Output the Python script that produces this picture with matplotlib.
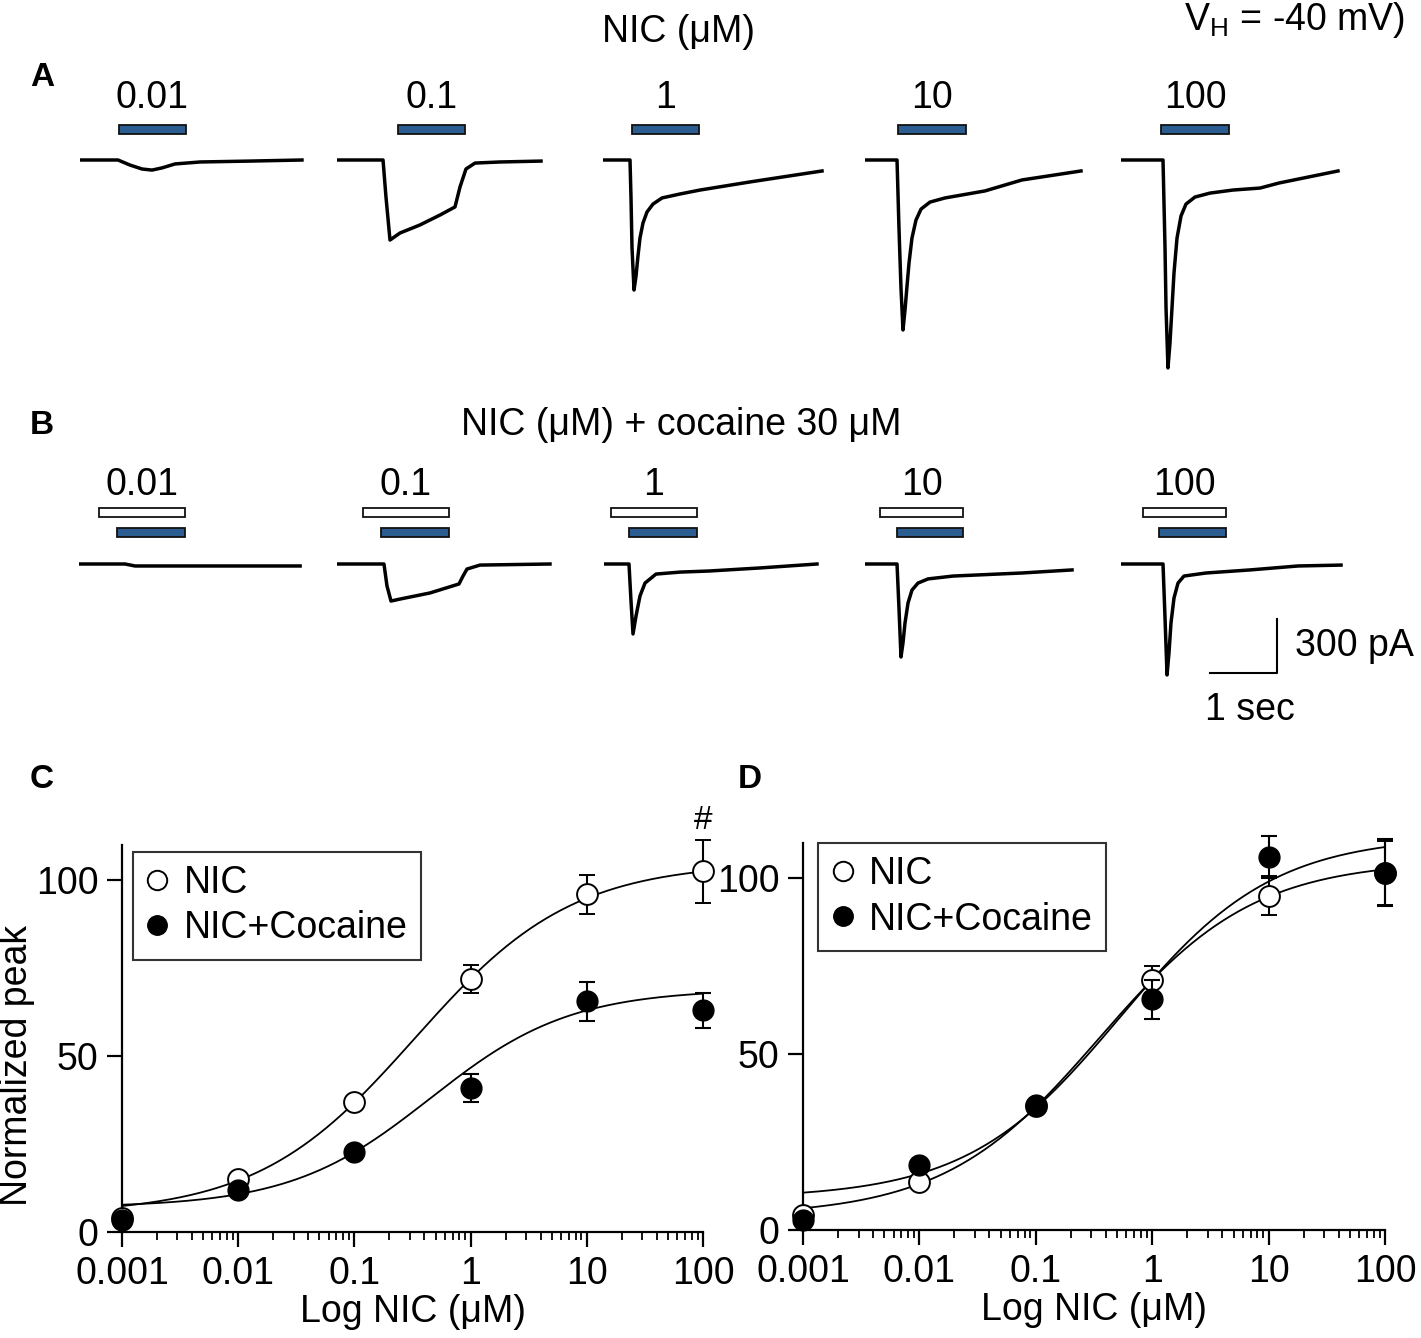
import numpy as np
import matplotlib.pyplot as plt
from matplotlib.patches import Rectangle
from matplotlib.ticker import FixedLocator, LogLocator, NullFormatter

plt.rcParams['font.family'] = ['Liberation Sans', 'DejaVu Sans']

# ---- traces (time in s from trace start, current in pA) ----
conc_labels = ['0.01', '0.1', '1', '10', '100']

a_t = [
    [0, .567, .746, .925, 1.075, 1.224, 1.418, 1.791, 2.537, 3.313],
    [0, .687, .731, .791, .940, 1.239, 1.537, 1.761, 1.836, 1.925, 2.06, 2.433, 3.045],
    [0, .403, .418, .433, .463, .493, .522, .552, .597, .657, .746, .881, 1.149, 1.448, 2.194, 3.269],
    [0, .478, .507, .537, .567, .597, .627, .657, .701, .761, .836, .970, 1.194, 1.791, 2.343, 3.224],
    [0, .627, .657, .672, .701, .731, .761, .791, .836, .896, .970, 1.104, 1.328, 1.672, 2.075, 2.358, 3.239],
]
a_i = [
    [0, 0, -28, -50, -56, -44, -22, -11, -6, 0],
    [0, 0, -206, -445, -406, -361, -306, -261, -150, -50, -17, -11, -6],
    [0, 0, -211, -489, -723, -645, -534, -434, -350, -289, -245, -211, -189, -167, -122, -61],
    [0, 0, -378, -712, -945, -834, -701, -573, -434, -334, -273, -234, -211, -172, -111, -61],
    [0, 0, -489, -823, -1156, -1017, -823, -628, -434, -311, -245, -206, -184, -167, -156, -128, -61],
]
a_nic_on = [.582, .91, .433, .493, .597]
a_nic_off = [1.582, 1.91, 1.433, 1.507, 1.612]

b_t = [
    [0, .687, .836, 3.3],
    [0, .701, .746, .806, .940, 1.388, 1.821, 1.881, 1.940, 2.134, 3.179],
    [0, .373, .403, .433, .478, .537, .612, .776, 1.134, 1.567, 2.328, 3.179],
    [0, .478, .507, .537, .567, .597, .642, .701, .791, .940, 1.313, 2.343, 3.09],
    [0, .627, .657, .687, .716, .746, .791, .851, .940, 1.269, 1.925, 2.642, 3.284],
]
b_i = [
    [0, 0, -11, -11],
    [0, 0, -122, -206, -195, -161, -111, -67, -28, -6, 0],
    [0, 0, -206, -389, -289, -178, -106, -56, -45, -39, -22, 0],
    [0, 0, -245, -517, -439, -328, -217, -145, -106, -83, -67, -50, -33],
    [0, 0, -300, -617, -495, -328, -189, -106, -67, -50, -33, -11, -6],
]
b_coc_on = [.30, .388, .104, .224, .328]
b_coc_off = [1.58, 1.672, 1.388, 1.463, 1.567]
b_nic_on = [.567, .657, .373, .478, .567]
b_nic_off = [1.58, 1.672, 1.388, 1.463, 1.567]

scale_t = 1.0      # s
scale_i = 300.0    # pA

# ---- concentration-response ----
conc = [0.001, 0.01, 0.1, 1, 10, 100]
c_nic = [4, 15, 37, 72, 96, 102.5]
c_nic_err = [0, 0, 0, 4, 5.5, 9]
c_coc = [3.5, 12, 22.6, 41, 65.6, 63]
c_coc_err = [0, 0, 0, 4, 5.5, 5]
d_nic = [4.4, 13.7, 35.2, 71, 95, 101.5]
d_nic_err = [0, 0, 0, 4, 5.5, 9]
d_coc = [2.8, 18.4, 35.5, 65.6, 106, 101.5]
d_coc_err = [0, 0, 0, 5.5, 6, 9.5]

# Hill fit parameters: bottom, top, EC50 (uM), slope
c_nic_fit = (5, 105, 0.33, 0.64)
c_coc_fit = (7, 69, 0.45, 0.72)
d_nic_fit = (4, 105, 0.35, 0.65)
d_coc_fit = (9, 112, 0.53, 0.66)


def hill(x, p):
    b, t, ec, n = p
    return b + (t - b) / (1 + (ec / x) ** n)


W, H = 1421, 1338
fig = plt.figure(figsize=(W / 100, H / 100), dpi=100)
FS = 27
BLUE = '#2b5d91'

px_per_s = 67.0
px_per_pa = 1 / 5.56


def px_axes(left, top, width, height):
    return fig.add_axes([left / W, 1 - (top + height) / H, width / W, height / H])


def trace_axes(left, base):
    up, down, wd = 110, 230, 3.45 * px_per_s
    ax = px_axes(left, base - up, wd, up + down)
    ax.set_xlim(0, 3.45)
    ax.set_ylim(-down / px_per_pa, up / px_per_pa)
    ax.axis('off')
    return ax


def bar(ax, t0, t1, yfrac, face):
    ax.add_patch(Rectangle((t0, yfrac), t1 - t0, 0.026, transform=ax.get_xaxis_transform(),
                           facecolor=face, edgecolor='#111111', lw=1.3, clip_on=False))


a_left = [80, 337, 603, 865, 1121]
b_left = [79, 337, 604, 865, 1121]

for k in range(5):
    ax = trace_axes(a_left[k], 160)
    ax.plot(a_t[k], a_i[k], color='black', lw=2.5, solid_joinstyle='round')
    bar(ax, a_nic_on[k], a_nic_off[k], 0.752, BLUE)
    ax.text((a_nic_on[k] + a_nic_off[k]) / 2, 0.86, conc_labels[k], transform=ax.get_xaxis_transform(),
            ha='center', va='center', fontsize=FS)

for k in range(5):
    ax = trace_axes(b_left[k], 564)
    ax.plot(b_t[k], b_i[k], color='black', lw=2.5, solid_joinstyle='round')
    bar(ax, b_coc_on[k], b_coc_off[k], 0.816, 'white')
    bar(ax, b_nic_on[k], b_nic_off[k], 0.755, BLUE)
    ax.text((b_coc_on[k] + b_coc_off[k]) / 2, 0.91, conc_labels[k], transform=ax.get_xaxis_transform(),
            ha='center', va='center', fontsize=FS)
    if k == 4:
        x1, y1 = 2.33, -606
        ax.plot([x1 - scale_t, x1, x1], [y1, y1, y1 + scale_i], color='black', lw=1.5, clip_on=False)
        ax.text(x1 + 0.27, y1 + scale_i / 2, '300 pA', fontsize=FS, va='center', ha='left')
        ax.text(x1 - scale_t / 2 + 0.1, y1 - 205, '1 sec', fontsize=FS, va='center', ha='center')

fig.text(678 / W, 1 - 32 / H, 'NIC (μM)', fontsize=FS, ha='center', va='center')
fig.text(1405 / W, 1 - 20 / H, r'V$_\mathregular{H}$ = -40 mV)', fontsize=FS, ha='right', va='center')
fig.text(681 / W, 1 - 425 / H, 'NIC (μM) + cocaine 30 μM', fontsize=FS, ha='center', va='center')
for lbl, x, y in [('A', 42, 78), ('B', 42, 425), ('C', 42, 780), ('D', 750, 780)]:
    fig.text(x / W, 1 - y / H, lbl, fontsize=24, fontweight='bold', ha='center', va='center')


def dose_axes(ax, nic, nic_err, coc, coc_err, fit_nic, fit_coc, leg_anchor):
    xs = np.logspace(-3, 2, 300)
    ax.plot(xs, hill(xs, fit_nic), color='black', lw=1.3, zorder=2)
    ax.plot(xs, hill(xs, fit_coc), color='black', lw=1.3, zorder=2)
    ax.errorbar(conc, nic, yerr=nic_err, fmt='o', ms=15, mfc='white', mec='black', mew=1.4,
                ecolor='black', elinewidth=1.5, capsize=6, capthick=1.5, clip_on=False, zorder=3,
                label='NIC')
    ax.errorbar(conc, coc, yerr=coc_err, fmt='o', ms=15, mfc='black', mec='black',
                ecolor='black', elinewidth=1.5, capsize=6, capthick=1.5, clip_on=False, zorder=4,
                label='NIC+Cocaine')
    ax.set_xscale('log')
    ax.set_xlim(0.001, 100)
    ax.set_ylim(0, 110)
    ax.spines['top'].set_visible(False)
    ax.spines['right'].set_visible(False)
    for s in ('left', 'bottom'):
        ax.spines[s].set_linewidth(1.6)
    ax.xaxis.set_major_locator(FixedLocator(conc))
    ax.set_xticklabels(['0.001', '0.01', '0.1', '1', '10', '100'])
    ax.xaxis.set_minor_locator(LogLocator(base=10, subs=np.arange(2, 10), numticks=20))
    ax.xaxis.set_minor_formatter(NullFormatter())
    ax.set_yticks([0, 50, 100])
    ax.tick_params(which='major', direction='out', length=11, width=1.6, labelsize=FS, pad=6)
    ax.tick_params(which='minor', direction='out', length=6, width=1.3)
    ax.set_xlabel('Log NIC (μM)', fontsize=FS, labelpad=2)
    handles, labels = ax.get_legend_handles_labels()
    handles = [h[0] for h in handles]
    leg = ax.legend(handles, labels, loc='upper left', bbox_to_anchor=leg_anchor, borderaxespad=0,
                    fontsize=FS, frameon=True, fancybox=False, edgecolor='black',
                    handlelength=0.6, handletextpad=0.4, borderpad=0.35, labelspacing=0.25,
                    markerscale=1.0)
    leg.get_frame().set_linewidth(1.5)
    for h in leg.legend_handles:
        h.set_markersize(14)


axC = px_axes(122, 845, 581, 387)
dose_axes(axC, c_nic, c_nic_err, c_coc, c_coc_err, c_nic_fit, c_coc_fit, (0.019, 0.982))
axC.set_ylabel('Normalized peak', fontsize=FS)
axC.yaxis.set_label_coords(-0.15, 0.43)
axC.text(100, 112.5, '#', fontsize=24, ha='center', va='bottom')

axD = px_axes(803, 843, 582, 387)
dose_axes(axD, d_nic, d_nic_err, d_coc, d_coc_err, d_nic_fit, d_coc_fit, (0.026, 1.0))

fig.savefig('out.png', dpi=100)
